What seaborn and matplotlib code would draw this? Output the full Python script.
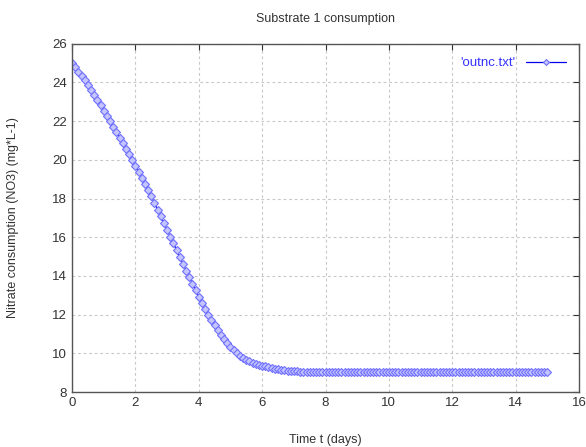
import seaborn as sns
import matplotlib.pyplot as plt
import pandas as pd

# time in days, sampled every 0.1 day
time_days = [round(i * 0.1, 1) for i in range(151)]

nitrate = [
    25.00, 24.78, 24.56, 24.34, 24.11, 23.87, 23.62, 23.36, 23.09, 22.82,
    22.55, 22.27, 21.99, 21.71, 21.43, 21.15, 20.87, 20.58, 20.29, 20.00,
    19.70, 19.39, 19.08, 18.76, 18.44, 18.11, 17.77, 17.43, 17.08, 16.73,
    16.38, 16.03, 15.68, 15.33, 14.98, 14.63, 14.28, 13.94, 13.60, 13.26,
    12.93, 12.61, 12.30, 12.00, 11.72, 11.45, 11.19, 10.95, 10.72, 10.51,
    10.32, 10.15, 10.00, 9.87, 9.76, 9.66, 9.58, 9.51, 9.45, 9.40,
    9.36, 9.32, 9.28, 9.24, 9.20, 9.17, 9.14, 9.12, 9.10, 9.09,
    9.08, 9.07, 9.06, 9.05, 9.05, 9.04, 9.04, 9.04, 9.03, 9.03,
] + [9.03] * 71

df = pd.DataFrame({'t': time_days, 'no3': nitrate})

sns.set_style('white')
plt.rcParams['font.family'] = ['Liberation Sans', 'DejaVu Sans']

fig, ax = plt.subplots(figsize=(5.86, 4.47), dpi=100)
fig.subplots_adjust(left=0.123, right=0.988, top=0.902, bottom=0.123)

sns.lineplot(data=df, x='t', y='no3', ax=ax, color='#0000ee', linewidth=0.9,
             marker='D', markersize=4.3, markerfacecolor='#c4c4ff',
             markeredgecolor='#7070ff', markeredgewidth=0.8,
             label="'outnc.txt'")

ax.set_xlim(0, 16)
ax.set_ylim(8, 26)
ax.set_xticks(range(0, 17, 2))
ax.set_yticks(range(8, 27, 2))
ax.grid(True, linestyle=(0, (2.5, 2.5)), color='#c8c8c8', linewidth=0.8)
ax.tick_params(direction='in', length=4, top=True, right=True,
               labelsize=9.5, colors='#333333', width=0.8)
for s in ax.spines.values():
    s.set_color('#555555')
    s.set_linewidth(1.0)

ax.set_xlabel('Time t (days)', fontsize=9, color='#333333', labelpad=18)
ax.set_ylabel('Nitrate consumption (NO3) (mg*L-1)', fontsize=9,
              color='#333333', labelpad=24)
ax.set_title('Substrate 1 consumption', fontsize=9, color='#333333', pad=16)

leg = ax.legend(loc='upper right', frameon=False, markerfirst=False,
                handlelength=3.0, fontsize=9.5, labelcolor='#3333ff',
                borderaxespad=0.6, handletextpad=0.8)
leg.legend_handles[0].set_markersize(3)

plt.savefig('out.png', dpi=100)
